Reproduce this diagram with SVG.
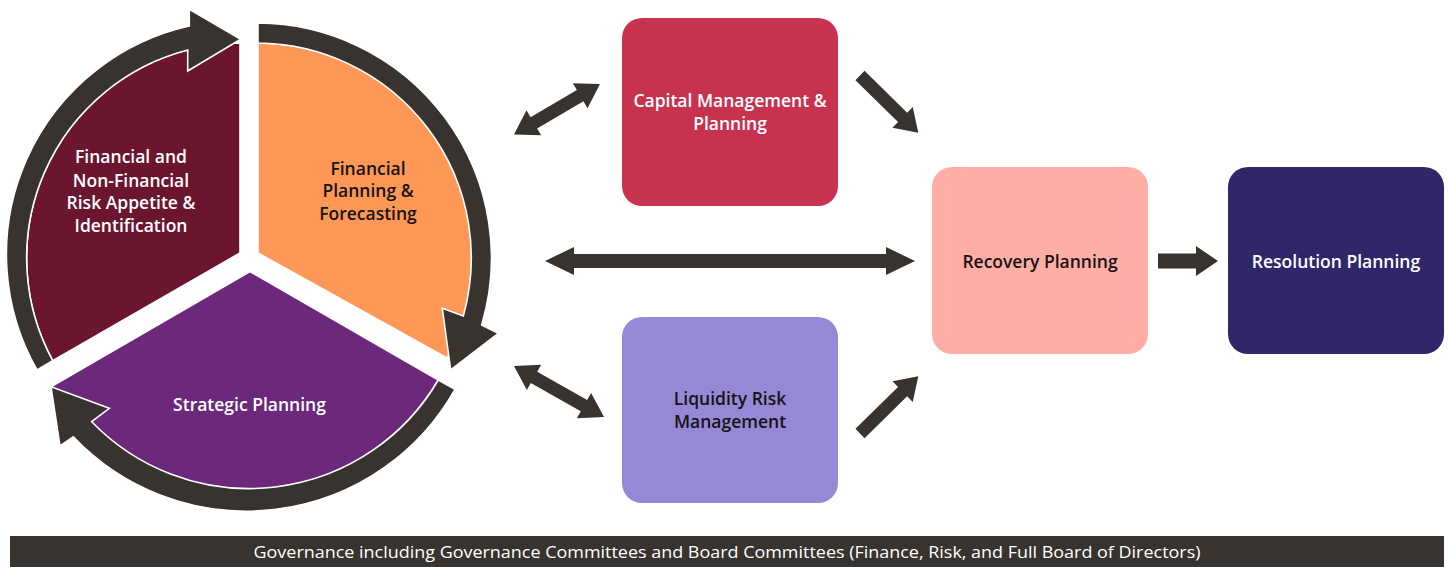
<svg xmlns="http://www.w3.org/2000/svg" width="1449" height="567" viewBox="0 0 1449 567">
<style>
.seg{stroke:#ffffff;stroke-width:1.6;stroke-linejoin:miter}
.ring{fill:#38332f;stroke:#ffffff;stroke-width:1.6;stroke-linejoin:miter}
.conn{fill:#38332f}
.t{font-family:"Open Sans","Noto Sans","Liberation Sans",sans-serif;font-size:17.5px;font-weight:600;text-anchor:middle}
.w{fill:#ffffff}
.k{fill:#141414}
.bar{font-family:"Open Sans","Noto Sans","Liberation Sans",sans-serif;font-size:15.5px;fill:#ffffff;text-anchor:middle}
</style>
<rect width="1449" height="567" fill="#ffffff"/>

<g id="cycle">
  <g id="node-risk-appetite">
    <path class="seg" fill="#6c152e" d="M240,253 L52.7,360.7 A215,215 0 0 1 240,43 Z"/>
  </g>
  <g id="node-financial-planning">
    <path class="seg" fill="#ff9757" d="M258,253 L258,43 A215,215 0 0 1 447,358 Z"/>
  </g>
  <g id="node-strategic-planning">
    <path class="seg" fill="#6c287b" d="M250,271.5 L51,386.7 L81.5,411.2 A219,219 0 0 0 438.3,380 Z"/>
  </g>
  <g id="cycle-arrows">
    <path class="ring" d="M37,370 A234,234 0 0 1 189.3,26 L189.3,9.3 L240.7,39.3 L187.7,71 L187.7,50 A215,215 0 0 0 52.7,360.7 Z"/>
    <path class="ring" d="M258,23 A235,235 0 0 1 481.7,325 L498.3,333.3 L450.7,370 L442.3,308.3 L463.3,316 A215,215 0 0 0 258,43 Z"/>
    <path class="ring" d="M455,389.3 A239,239 0 0 1 73.3,436.7 L60,446 L51,386.7 L109.3,408.3 L91.7,421.7 A219,219 0 0 0 438.3,380 Z"/>
  </g>
  <text class="t w" x="131" y="163">Financial and</text>
  <text class="t w" x="131" y="186.5">Non-Financial</text>
  <text class="t w" x="131" y="209">Risk Appetite &amp;</text>
  <text class="t w" x="131" y="232">Identification</text>
  <text class="t k" x="368" y="175">Financial</text>
  <text class="t k" x="368" y="197">Planning &amp;</text>
  <text class="t k" x="368" y="220">Forecasting</text>
  <text class="t w" x="249.5" y="410.5">Strategic Planning</text>
</g>

<g id="connectors">
  <polygon class="conn" points="514,134.5 541.17,135.35 537.12,128.45 583.46,101.25 587.51,108.15 600,84 572.83,83.15 576.88,90.05 530.54,117.25 526.49,110.35"/>
  <polygon class="conn" points="545,261 574,247 574,254 886,254 886,247 915,261 886,275 886,268 574,268 574,275"/>
  <polygon class="conn" points="514,366 526.86,389.96 530.81,383 580.79,411.32 576.84,418.28 604,417 591.14,393.04 587.19,400 537.21,371.68 541.16,364.72"/>
  <polygon class="conn" points="864.55,70.86 907.15,112.65 912.75,106.94 918.3,132.7 892.45,127.64 898.05,121.93 855.45,80.14"/>
  <polygon class="conn" points="864.55,438.14 907.15,396.35 912.75,402.06 918.3,376.3 892.45,381.36 898.05,387.07 855.45,428.86"/>
  <polygon class="conn" points="1158,253.5 1196,253.5 1196,246 1218,261 1196,276 1196,268.5 1158,268.5"/>
</g>

<g id="node-capital">
  <rect x="622" y="18" width="216" height="188" rx="20" fill="#c7334f"/>
  <text class="t w" x="730" y="106.5">Capital Management &amp;</text>
  <text class="t w" x="730" y="130">Planning</text>
</g>
<g id="node-liquidity">
  <rect x="622" y="317" width="216" height="186" rx="20" fill="#9688d6"/>
  <text class="t k" x="730" y="404.5">Liquidity Risk</text>
  <text class="t k" x="730" y="427.5">Management</text>
</g>
<g id="node-recovery">
  <rect x="932" y="167" width="216" height="187" rx="20" fill="#ffada5"/>
  <text class="t k" x="1040" y="267.5">Recovery Planning</text>
</g>
<g id="node-resolution">
  <rect x="1228" y="167" width="216" height="187" rx="20" fill="#30266a"/>
  <text class="t w" x="1336" y="267.5">Resolution Planning</text>
</g>

<g id="governance">
  <rect x="10" y="536" width="1434" height="31" fill="#38332f"/>
  <text class="bar" x="727" y="558" textLength="947" lengthAdjust="spacingAndGlyphs">Governance including Governance Committees and Board Committees (Finance, Risk, and Full Board of Directors)</text>
</g>
</svg>
